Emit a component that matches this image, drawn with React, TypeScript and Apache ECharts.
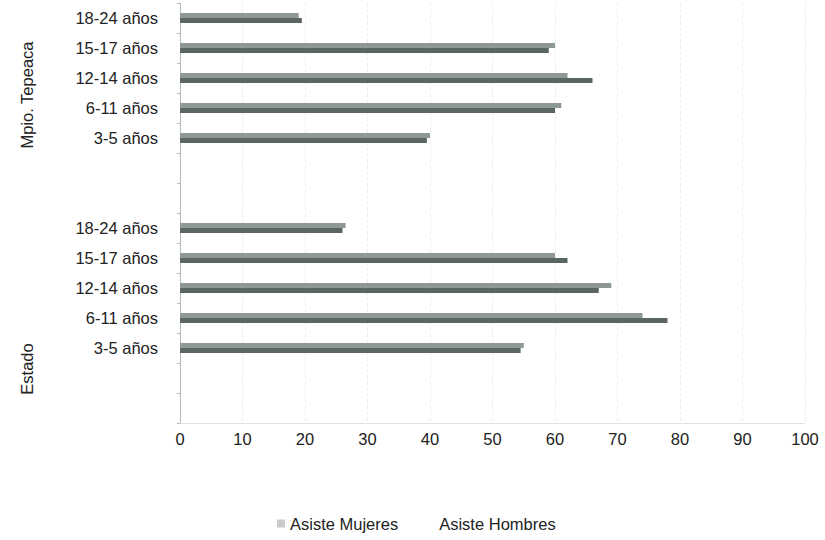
import React, { useEffect, useRef } from "react";
import * as echarts from "echarts";

const ageGroups = ["18-24 años", "15-17 años", "12-14 años", "6-11 años", "3-5 años"];
const groupNames = ["Mpio. Tepeaca", "Estado"];
const mpioMujeres = [19, 60, 62, 61, 40];
const mpioHombres = [19.5, 59, 66, 60, 39.5];
const estadoMujeres = [26.5, 60, 69, 74, 55];
const estadoHombres = [26, 62, 67, 78, 54.5];
const xTicks = [0, 10, 20, 30, 40, 50, 60, 70, 80, 90, 100];
const seriesNames = ["Asiste Mujeres", "Asiste Hombres"];

const FONT = "'Liberation Sans', Arial, sans-serif";

export default function App() {
  const ref = useRef<HTMLDivElement>(null);
  useEffect(() => {
    if (!ref.current) return;
    const chart = echarts.init(ref.current, undefined, { renderer: "svg" });
    const gap = ["", ""];
    const cats = [...ageGroups, ...gap, ...ageGroups, ...gap];
    const pad = [null, null];
    const muj = [...mpioMujeres, ...pad, ...estadoMujeres, ...pad];
    const hom = [...mpioHombres, ...pad, ...estadoHombres, ...pad];
    chart.setOption({
      animation: false,
      backgroundColor: "#ffffff",
      grid: { left: 180, right: 20, top: 3, bottom: 117 },
      xAxis: {
        type: "value",
        min: xTicks[0],
        max: xTicks[xTicks.length - 1],
        interval: 10,
        axisLine: { show: true, lineStyle: { color: "#dfe2e1" } },
        axisTick: { show: false },
        axisLabel: { color: "#222", fontFamily: FONT, fontSize: 16.5, margin: 7 },
        splitLine: { show: true, lineStyle: { color: "#eceeed", type: "dashed", width: 1 } },
      },
      yAxis: {
        type: "category",
        data: cats,
        inverse: true,
        axisLine: { show: true, lineStyle: { color: "#b5bbb8" } },
        axisTick: { show: true, length: 3, lineStyle: { color: "#b5bbb8" } },
        axisLabel: { color: "#222", fontFamily: FONT, fontSize: 16.5, margin: 22 },
      },
      legend: {
        bottom: 3,
        left: 272,
        itemWidth: 8,
        itemHeight: 8,
        itemGap: 28,
        icon: "rect",
        textStyle: { color: "#222", fontFamily: FONT, fontSize: 16.5 },
        data: [
          { name: seriesNames[0], itemStyle: { color: "#c9cccb" } },
          { name: seriesNames[1], itemStyle: { color: "#ffffff" } },
        ],
      },
      graphic: [
        {
          type: "text",
          x: 27,
          y: 95,
          rotation: Math.PI / 2,
          style: {
            text: groupNames[0],
            fill: "#222",
            font: `16.5px ${FONT}`,
            align: "center",
            verticalAlign: "middle",
          },
        },
        {
          type: "text",
          x: 27,
          y: 369,
          rotation: Math.PI / 2,
          style: {
            text: groupNames[1],
            fill: "#222",
            font: `16.5px ${FONT}`,
            align: "center",
            verticalAlign: "middle",
          },
        },
      ],
      series: [
        {
          name: seriesNames[0],
          type: "bar",
          data: muj,
          barWidth: 5,
          barGap: "0%",
          itemStyle: { color: "#8f9994" },
        },
        {
          name: seriesNames[1],
          type: "bar",
          data: hom,
          barWidth: 5,
          itemStyle: { color: "#5a6661" },
        },
      ],
    });
    return () => chart.dispose();
  }, []);
  return (
    <div
      ref={ref}
      style={{ position: "fixed", left: 0, top: 0, width: 825, height: 540, background: "#fff" }}
    />
  );
}
